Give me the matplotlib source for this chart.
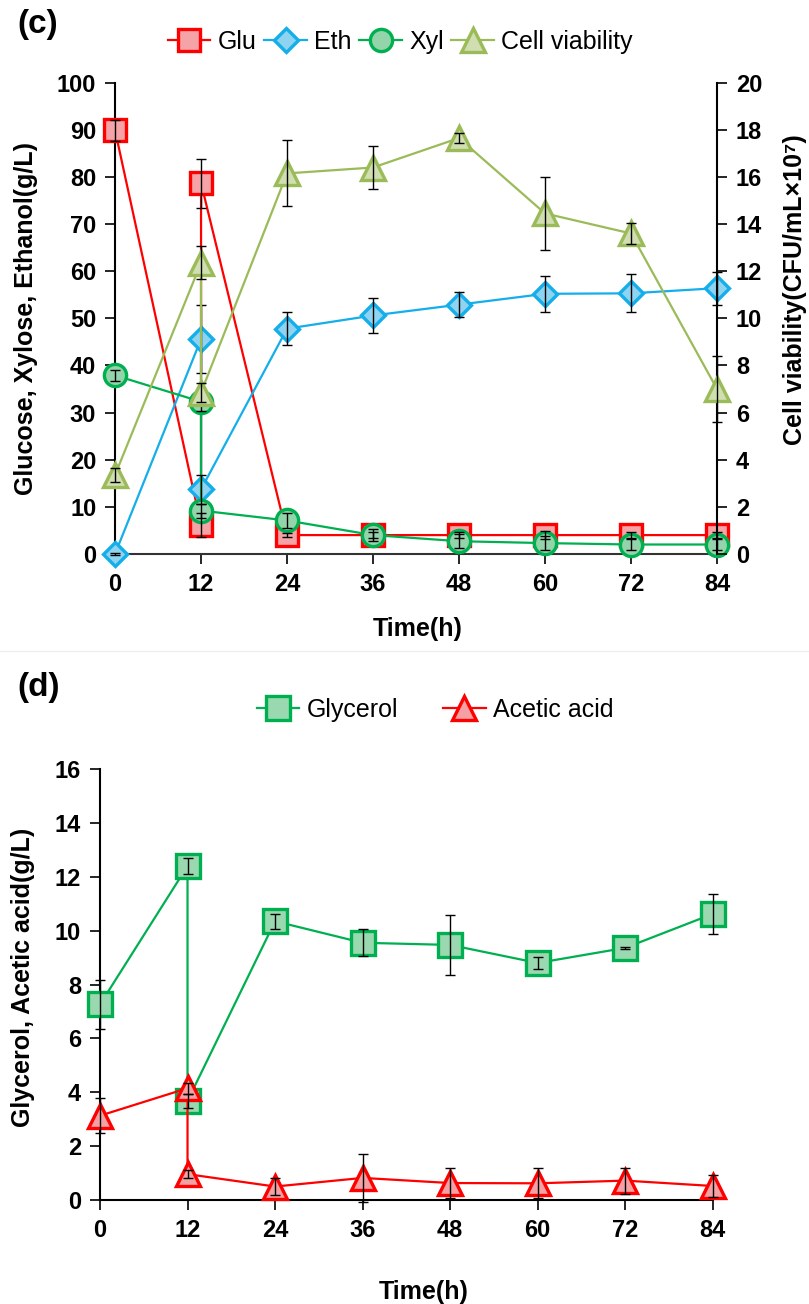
import matplotlib
matplotlib.use("Agg")
import matplotlib.pyplot as plt
from matplotlib.lines import Line2D

plt.rcParams['font.family'] = ['Liberation Sans', 'DejaVu Sans']

# panel (c) data; the doubled 12 h point is the feeding step
time_c = [0, 12, 12, 24, 36, 48, 60, 72, 84]
glu = [89.9, 6.1, 78.7, 4.0, 4.0, 4.0, 4.0, 4.0, 4.0]
glu_err = [2.2, 2.5, 5.2, 0.5, 0.6, 0.6, 0.8, 0.6, 0.6]
eth = [0.0, 45.6, 13.7, 47.8, 50.6, 52.9, 55.2, 55.3, 56.4]
eth_err = [0.3, 7.2, 3.0, 3.5, 3.7, 2.7, 3.8, 4.0, 3.5]
xyl = [37.9, 32.3, 9.2, 7.1, 4.0, 2.7, 2.3, 2.0, 2.0]
xyl_err = [1.2, 2.0, 1.5, 1.5, 1.2, 1.5, 1.5, 1.2, 1.2]
cell = [3.35, 12.35, 6.85, 16.15, 16.4, 17.65, 14.45, 13.6, 7.0]
cell_err = [0.3, 0.7, 0.4, 1.4, 0.9, 0.2, 1.55, 0.45, 1.4]

# panel (d) data
time_d = [0, 12, 12, 24, 36, 48, 60, 72, 84]
glycerol = [7.26, 12.4, 3.68, 10.35, 9.55, 9.47, 8.8, 9.36, 10.62]
glycerol_err = [0.9, 0.3, 0.25, 0.28, 0.5, 1.1, 0.22, 0.05, 0.73]
acetic = [3.13, 4.15, 0.96, 0.5, 0.82, 0.63, 0.62, 0.72, 0.52]
acetic_err = [0.65, 0.2, 0.15, 0.3, 0.88, 0.55, 0.55, 0.48, 0.4]

xticks = [0, 12, 24, 36, 48, 60, 72, 84]

TICK = 17
LAB = 18


def series(ax, x, y, err, edge, face, marker, ms, label):
    ln, = ax.plot(x, y, color=edge, lw=1.6, marker=marker, ms=ms, mec=edge,
                  mfc=face, mew=2.4, label=label, clip_on=False, zorder=3)
    ax.errorbar(x, y, yerr=err, fmt='none', ecolor='black', elinewidth=1.0,
                capsize=3.5, capthick=1.0, zorder=5, clip_on=False)
    return ln


def style(ax):
    ax.tick_params(axis='both', direction='out', length=7, width=1.2,
                   pad=6.5, labelsize=TICK)
    for lab in ax.get_xticklabels() + ax.get_yticklabels():
        lab.set_fontweight('bold')
    for s in ax.spines.values():
        s.set_linewidth(1.5)


fig = plt.figure(figsize=(8.09, 13.04), dpi=100)

# ---------------- panel (c) ----------------
ax = fig.add_axes([0.1422, 0.5752, 0.7441, 0.3614])
h1 = series(ax, time_c, glu, glu_err, '#FF0000', '#F5A3A6', 's', 16.5, 'Glu')
h2 = series(ax, time_c, eth, eth_err, '#14AEEA', '#8ED3F0', 'D', 12, 'Eth')
h3 = series(ax, time_c, xyl, xyl_err, '#00B050', '#93D4AA', 'o', 16, 'Xyl')
ax.set_xlim(0, 84)
ax.set_ylim(0, 100)
ax.set_xticks(xticks)
ax.set_yticks(range(0, 101, 10))
ax.spines['top'].set_visible(False)
ax.spines['right'].set_visible(False)
ax.spines['bottom'].set_color('#333333')
style(ax)
ax.set_ylabel('Glucose, Xylose, Ethanol(g/L)', fontsize=LAB, fontweight='bold')
ax.yaxis.set_label_coords(-0.128, 0.5)
ax.set_xlabel('Time(h)', fontsize=LAB, fontweight='bold')
ax.xaxis.set_label_coords(0.503, -0.134)

ax2 = ax.twinx()
h4 = series(ax2, time_c, cell, cell_err, '#9BBB59', '#D0DEB2', '^', 17, 'Cell viability')
ax2.set_ylim(0, 20)
ax2.set_yticks(range(0, 21, 2))
for s in ['top', 'left', 'bottom']:
    ax2.spines[s].set_visible(False)
style(ax2)
ax2.set_ylabel('Cell viability(CFU/mL×10⁷)', fontsize=LAB, fontweight='bold')
ax2.yaxis.set_label_coords(1.11, 0.56)

fig.legend(handles=[h1, h2, h3, h4], loc='center', bbox_to_anchor=(0.495, 0.968),
           ncol=4, frameon=False, fontsize=LAB, handlelength=1.7,
           handletextpad=0.3, columnspacing=0.3, borderaxespad=0)
fig.text(0.022, 0.981, '(c)', fontsize=24, fontweight='bold', va='center')

# faint separator between the panels
fig.add_artist(Line2D([0, 1], [0.5008, 0.5008], color='#eeeeee', lw=1,
                      transform=fig.transFigure))

# ---------------- panel (d) ----------------
bx = fig.add_axes([0.1236, 0.07975, 0.7574, 0.3305])
g1 = series(bx, time_d, glycerol, glycerol_err, '#00B050', '#9AD9B0', 's', 17.5, 'Glycerol')
g2 = series(bx, time_d, acetic, acetic_err, '#FF0000', '#F5A0A3', '^', 17, 'Acetic acid')
bx.set_xlim(0, 84)
bx.set_ylim(0, 16)
bx.set_xticks(xticks)
bx.set_yticks(range(0, 17, 2))
bx.spines['top'].set_visible(False)
bx.spines['right'].set_visible(False)
style(bx)
bx.set_ylabel('Glycerol, Acetic acid(g/L)', fontsize=LAB, fontweight='bold')
bx.yaxis.set_label_coords(-0.106, 0.516)
bx.set_xlabel('Time(h)', fontsize=LAB, fontweight='bold')
bx.xaxis.set_label_coords(0.529, -0.186)

fig.legend(handles=[g1, g2], loc='center', bbox_to_anchor=(0.538, 0.4555),
           ncol=2, frameon=False, fontsize=LAB, handlelength=1.7,
           handletextpad=0.3, columnspacing=1.8, borderaxespad=0)
fig.text(0.021, 0.473, '(d)', fontsize=24, fontweight='bold', va='center')

fig.savefig('out.png', dpi=100)
